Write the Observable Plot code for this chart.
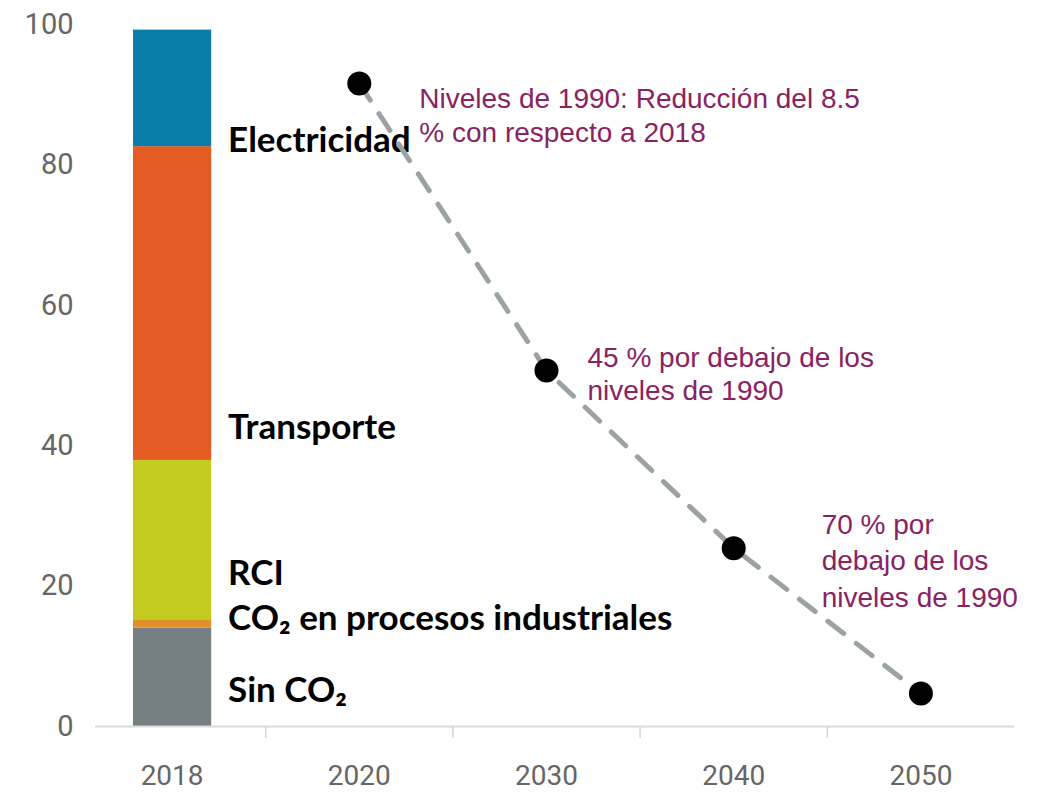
<!DOCTYPE html>
<html><head><meta charset="utf-8">
<script src="https://cdn.jsdelivr.net/npm/d3@7"></script>
<script src="https://cdn.jsdelivr.net/npm/@observablehq/plot@0.6"></script>
<style>body{margin:0;background:#fff} #chart{width:1038px;height:792px}</style>
</head><body><div id="chart"></div>
<script>
// categories on the x axis
const years = ["2018", "2020", "2030", "2040", "2050"];
// stacked 2018 bar (bottom to top)
const sectors = ["Sin CO₂", "CO₂ en procesos industriales", "RCI", "Transporte", "Electricidad"];
const sectorValues = [14.0, 1.2, 22.7, 44.7, 16.6];
const sectorColors = ["#768082", "#e0902a", "#c3cb1e", "#e45b24", "#0a7da8"];
const sectorLabelY = [5.1, 15.4, 21.8, 42.6, 83.5];
// target path
const pathYears = ["2020", "2030", "2040", "2050"];
const pathValues = [91.6, 50.7, 25.4, 4.7];
// annotations
const notes = [
  "Niveles de 1990: Reducción del 8.5\n% con respecto a 2018",
  "45 % por debajo de los\nniveles de 1990",
  "70 % por\ndebajo de los\nniveles de 1990"
];
const noteYears = ["2020", "2030", "2040"];
const noteY = [91.6, 54.6, 31.1];
const yTicks = [0, 20, 40, 60, 80, 100];

const idx = y => years.indexOf(y);
const barData = sectors.map((s, i) => ({sector: s, value: sectorValues[i], labelY: sectorLabelY[i], i: idx("2018")}));
const pathData = pathYears.map((y, i) => ({i: idx(y), value: pathValues[i]}));
const noteData = notes.map((t, k) => ({text: t, i: idx(noteYears[k]), y: noteY[k]}));

const noteStyle = {textAnchor: "start", lineAnchor: "top", fontSize: 28, fill: "#8a2262", fontFamily: "Liberation Sans, Arial, sans-serif"};

const chart = Plot.plot({
  width: 1038,
  height: 792,
  marginLeft: 95,
  marginRight: 24,
  marginTop: 24,
  marginBottom: 66,
  style: {fontFamily: "Roboto, sans-serif", background: "#fff"},
  x: {type: "linear", domain: [-0.5, years.length - 0.5], range: [78, 1014]},
  y: {domain: [0, 100]},
  color: {domain: sectors, range: sectorColors},
  marks: [
    Plot.rectY(barData, Plot.stackY({x1: d => d.i - 0.5, x2: d => d.i + 0.5, y: "value", fill: "sector", insetLeft: 55, insetRight: 54})),
    Plot.ruleY([0], {stroke: "#dcdcdc", strokeWidth: 2}),
    Plot.axisX({ticks: [0.5, 1.5, 2.5, 3.5], tickFormat: () => "", tickSize: 12, stroke: "#d6d6d6", strokeWidth: 1.5, label: null}),
    Plot.axisX({ticks: years.map((_, i) => i), tickFormat: i => years[i], tickSize: 0, tickPadding: 39, fontSize: 28, fill: "#666", label: null}),
    Plot.axisY({ticks: yTicks, tickSize: 0, tickPadding: 22, fontSize: 29, fill: "#666", label: null}),
    Plot.text(barData, {x: "i", y: "labelY", text: "sector", textAnchor: "start", dx: 56, fontSize: 35, fontWeight: 700, fill: "#000", fontFamily: "Lato, sans-serif"}),
    Plot.line(pathData, {x: "i", y: "value", stroke: "#9aa2a4", strokeWidth: 5, strokeDasharray: "20,16"}),
    Plot.dot(pathData, {x: "i", y: "value", r: 12, fill: "#000"}),
    Plot.text(noteData.slice(0, 1), {x: "i", y: "y", text: "text", dx: 60, lineHeight: 1.22, ...noteStyle}),
    Plot.text(noteData.slice(1, 2), {x: "i", y: "y", text: "text", dx: 41, lineHeight: 1.18, ...noteStyle}),
    Plot.text(noteData.slice(2, 3), {x: "i", y: "y", text: "text", dx: 88, lineHeight: 1.3, ...noteStyle})
  ]
});
document.getElementById("chart").appendChild(chart);
</script>
</body></html>
